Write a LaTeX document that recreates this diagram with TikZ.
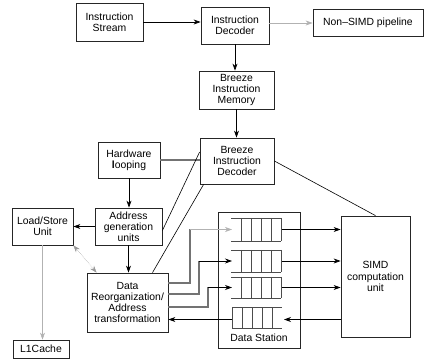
\documentclass[tikz,border=0pt]{standalone}
\usepackage{fontspec}
\setmainfont{Liberation Sans}
\usetikzlibrary{arrows.meta}
\begin{document}
\begin{tikzpicture}[x=1pt,y=-1pt,
  box/.style={draw=black!85,line width=0.8pt,inner sep=0pt,align=center,
    font=\fontsize{10.4}{11.2}\selectfont},
  conn/.style={line width=0.7pt,black},
  arr/.style={conn,-{Stealth[length=7pt,width=5pt]}},
  garr/.style={line width=0.5pt,black!30,-{Stealth[length=7pt,width=5pt]}},
  gline/.style={line width=1.2pt,black!55},
  qline/.style={line width=0.9pt,black!70}]
\useasboundingbox (0,0) rectangle (424,361);
% boxes
\node[box,minimum width=67pt,minimum height=38pt] (stream) at (109.5,22) {Instruction\\Stream};
\node[box,minimum width=68pt,minimum height=37pt] (idec) at (235,25.5) {Instruction\\Decoder};
\node[box,minimum width=110pt,minimum height=27pt] (nonsimd) at (368,22.5) {Non–SIMD pipeline};
\node[box,minimum width=75pt,minimum height=38pt] (bmem) at (236.5,90) {Breeze\\Instruction\\Memory};
\node[box,minimum width=74pt,minimum height=46pt] (bdec) at (237,161) {Breeze\\Instruction\\Decoder};
\node[box,minimum width=62pt,minimum height=36pt] (hwl) at (129,160) {Hardware\\\textbf{l}ooping};
\node[box,minimum width=67pt,minimum height=37pt] (agu) at (128.5,226.5) {Address\\generation\\units};
\node[box,minimum width=61pt,minimum height=37pt] (lsu) at (42.5,226.5) {Load/Store\\Unit};
\node[box,minimum width=81pt,minimum height=59pt] (dreorg) at (127.5,302.5) {Data\\Reorganization/\\Address\\transformation};
\node[box,minimum width=56pt,minimum height=18pt] (l1) at (41,349) {L1Cache};
\node[box,minimum width=82pt,minimum height=136pt] (ds) at (259,280) {};
\node[box,minimum width=69pt,minimum height=121pt] (simd) at (375.5,276.5) {SIMD\\computation\\unit};
\node[font=\fontsize{10.4}{11.2}\selectfont] (dslabel) at (259,338) {Data Station};
% queues (input)
\foreach \t/\b [count=\i] in {218/241,250/272,277/298}{
  \draw[qline] (231,\t) -- (281,\t) (231,\b) -- (281,\b);
  \foreach \v in {241,251,261,271,281} \draw[qline] (\v,\t) -- (\v,\b);
  \coordinate (qin\i) at (232,{(\t+\b)/2});
  \coordinate (qout\i) at (282,{(\t+\b)/2});
}
% output queue
\draw[qline] (232,307) -- (282,307) (232,328) -- (282,328);
\foreach \v in {232,242,252,262,272} \draw[qline] (\v,307) -- (\v,328);
\coordinate (q4in) at (284,319.5);
\coordinate (q4out) at (232,319.5);
% top connectors
\draw[arr] (stream.east) -- (stream.east -| idec.west);
\coordinate (idecr) at (269,23);
\draw[garr] (idecr) -- (idecr -| nonsimd.west);
\draw[arr] (idec.south) -- (idec.south |- bmem.north);
\draw[arr] (bmem.south) -- (bmem.south |- bdec.north);
\draw[gline] (hwl.east) -- (hwl.east -| bdec.west);
\draw[arr] (hwl.south) -- (hwl.south |- agu.north);
\draw[arr] (agu.west) -- (agu.west -| lsu.east);
\draw[arr] (agu.south) -- (agu.south |- dreorg.north);
\draw[garr] (lsu.south) -- (lsu.south |- l1.north);
\draw[line width=0.5pt,black!40,densely dotted,{Stealth[length=7pt,width=5pt]}-{Stealth[length=7pt,width=5pt]}]
  (lsu.south east) -- ([xshift=10pt]dreorg.north west);
% decoder lines
\draw[conn,line width=0.6pt] ([yshift=9pt]bdec.west) -- ([yshift=-4pt]agu.east);
\draw[conn,line width=0.6pt] ([xshift=4pt]bdec.south west) -- ([xshift=25pt]dreorg.north);
\draw[conn,line width=0.6pt] (bdec.east) -- (simd.north);
% data reorg to queues
\draw[gline] (168,283) -- (190,283) -- (190,229.5);
\draw[garr] (190,229.5) -- (qin1);
\draw[gline] (168,294) -- (199,294) -- (199,261);
\draw[arr] (199,261) -- (qin2);
\draw[gline] (168,307) -- (208,307) -- (208,287.5);
\draw[arr] (208,287.5) -- (qin3);
\draw[arr] (q4out) -- (q4out -| dreorg.east);
% queues to SIMD
\foreach \i in {1,2,3} \draw[arr] (qout\i) -- (qout\i -| simd.west);
\draw[arr] (q4in -| simd.west) -- (q4in);
\end{tikzpicture}
\end{document}
